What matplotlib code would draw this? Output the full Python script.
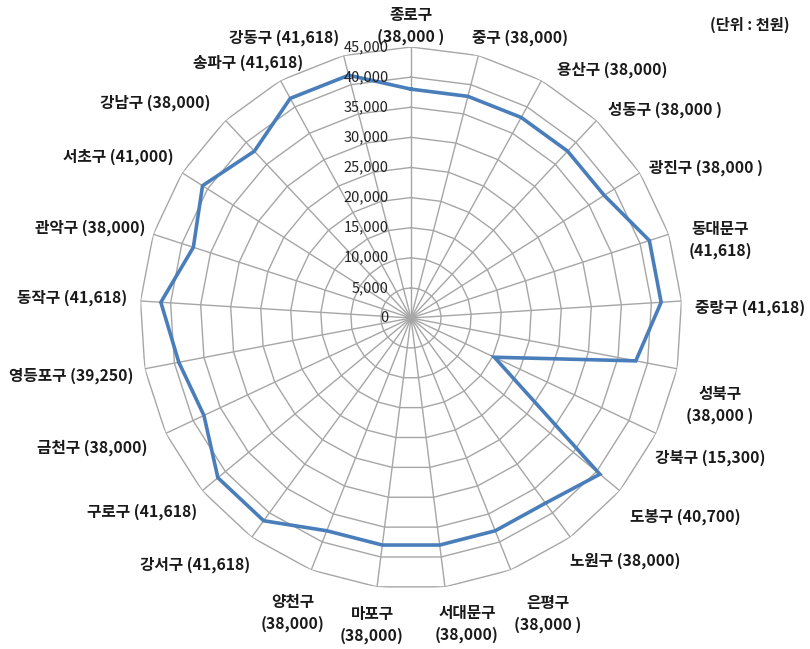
import numpy as np
import matplotlib
matplotlib.use("Agg")
import matplotlib.pyplot as plt

plt.rcParams['font.family'] = ['Noto Sans CJK KR', 'DejaVu Sans']

districts = ["종로구", "중구", "용산구", "성동구", "광진구", "동대문구", "중랑구", "성북구",
             "강북구", "도봉구", "노원구", "은평구", "서대문구", "마포구", "양천구", "강서구",
             "구로구", "금천구", "영등포구", "동작구", "관악구", "서초구", "강남구", "송파구", "강동구"]
values = [38000, 38000, 38000, 38000, 38000, 41618, 41618, 38000,
          15300, 40700, 38000, 38000, 38000, 38000, 38000, 41618,
          41618, 38000, 39250, 41618, 38000, 41000, 38000, 41618, 41618]
ring_values = [5000, 10000, 15000, 20000, 25000, 30000, 35000, 40000, 45000]
ring_labels = ["0", "5,000", "10,000", "15,000", "20,000", "25,000", "30,000", "35,000", "40,000", "45,000"]
cat_labels = ["종로구\n(38,000 )", "중구 (38,000)", "용산구 (38,000)", "성동구 (38,000 )",
              "광진구 (38,000 )", "동대문구\n(41,618)", "중랑구 (41,618)", "성북구\n(38,000 )",
              "강북구 (15,300)", "도봉구 (40,700)", "노원구 (38,000)", "은평구\n(38,000 )",
              "서대문구\n(38,000)", "마포구\n(38,000)", "양천구\n(38,000)", "강서구 (41,618)",
              "구로구 (41,618)", "금천구 (38,000)", "영등포구 (39,250)", "동작구 (41,618)",
              "관악구 (38,000)", "서초구 (41,000)", "강남구 (38,000)", "송파구 (41,618)", "강동구 (41,618)"]
unit_text = "(단위 : 천원)"

# label centres in pixels (layout only)
label_px = [(411, 26), (520, 38), (612, 70), (665, 110), (706, 168), (720, 240), (750, 308),
            (720, 405), (710, 458), (685, 517), (625, 561), (548, 614), (467, 624), (372, 625),
            (293, 613), (195, 565), (142, 512), (92, 448), (71, 376), (72, 298), (90, 228),
            (118, 157), (155, 103), (248, 63), (284, 38)]

W, H = 810, 649
fig = plt.figure(figsize=(W / 100, H / 100), dpi=100)
cx, cy, R = 411, 318, 271
ax = fig.add_axes([(cx - R) / W, (H - cy - R) / H, 2 * R / W, 2 * R / H], projection='polar')
ax.set_theta_zero_location('N')
ax.set_theta_direction(-1)
ax.set_ylim(0, 45000)
ax.axis('off')

n = len(districts)
theta = np.arange(n) * 2 * np.pi / n
theta_c = np.append(theta, theta[0])

grid_col = '#a6a6a6'
for rv in ring_values:
    ax.plot(theta_c, [rv] * (n + 1), color=grid_col, lw=1.0, zorder=1)
for t in theta:
    ax.plot([t, t], [0, 45000], color=grid_col, lw=1.0, zorder=1)

vals_c = np.append(values, values[0])
ax.plot(theta_c, vals_c, color='#4a7ebb', lw=2.6, zorder=3, solid_joinstyle='miter')

for rv, lab in zip([0] + ring_values, ring_labels):
    ax.annotate(lab, xy=(0, rv), xytext=(-16, 0), textcoords='offset points',
                ha='right', va='center', fontsize=10.5, color='#222222', zorder=4)

for lab, (px, py) in zip(cat_labels, label_px):
    fig.text(px / W, 1 - py / H, lab, ha='center', va='center', fontsize=11.3,
             fontweight='bold', color='#1a1a1a', linespacing=1.4)

fig.text(790 / W, 1 - 25 / H, unit_text, ha='right', va='center', fontsize=11,
         fontweight='bold', color='#1a1a1a')

fig.savefig('out.png', dpi=100)
